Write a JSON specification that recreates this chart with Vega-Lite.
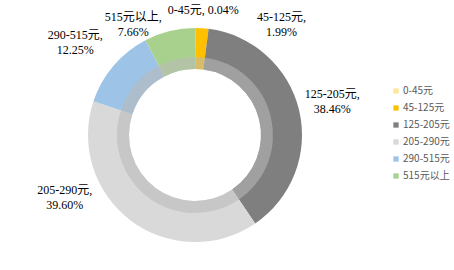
{
  "$schema": "https://vega.github.io/schema/vega-lite/v6.json",
  "width": 454,
  "height": 270,
  "autosize": {"type": "none"},
  "padding": 0,
  "background": "white",
  "config": {"view": {"stroke": null}},
  "data": {
    "values": [
      {"idx": 1, "cat": "0-45元", "pct": 0.04, "label": "0-45元, 0.04%"},
      {"idx": 2, "cat": "45-125元", "pct": 1.99, "label": "45-125元,\n1.99%"},
      {"idx": 3, "cat": "125-205元", "pct": 38.46, "label": "125-205元,\n38.46%"},
      {"idx": 4, "cat": "205-290元", "pct": 39.60, "label": "205-290元,\n39.60%"},
      {"idx": 5, "cat": "290-515元", "pct": 12.25, "label": "290-515元,\n12.25%"},
      {"idx": 6, "cat": "515元以上", "pct": 7.66, "label": "515元以上,\n7.66%"}
    ]
  },
  "encoding": {
    "theta": {"field": "pct", "type": "quantitative", "stack": true},
    "order": {"field": "idx", "type": "quantitative"}
  },
  "layer": [
    {
      "mark": {"type": "arc", "x": 195, "y": 135, "outerRadius": 107, "innerRadius": 66},
      "encoding": {
        "color": {
          "field": "cat", "type": "nominal",
          "scale": {
            "domain": ["0-45元", "45-125元", "125-205元", "205-290元", "290-515元", "515元以上"],
            "range": ["#ffe699", "#ffc000", "#7f7f7f", "#d9d9d9", "#9dc3e6", "#a9d18e"]
          },
          "legend": {
            "orient": "none", "legendX": 391, "legendY": 86, "title": null,
            "symbolType": "square", "symbolSize": 28, "symbolStrokeWidth": 0,
            "labelFont": "Noto Sans CJK SC", "labelFontSize": 10, "labelColor": "#595959",
            "rowPadding": 7, "labelOffset": 2
          }
        }
      }
    },
    {
      "mark": {"type": "arc", "x": 195, "y": 135, "outerRadius": 78, "innerRadius": 66, "fill": "#b8b8b8", "opacity": 0.57},
      "encoding": {"detail": {"field": "cat"}}
    },
    {
      "mark": {"type": "text", "x": 195, "y": 135, "radius": 125, "dx": 8, "dy": 0, "align": "center", "baseline": "middle", "lineBreak": "\n", "lineHeight": 15, "font": "Liberation Serif, Noto Sans CJK SC", "fontSize": 12, "fill": "#000000"},
      "encoding": {"detail": {"field": "cat"}, "text": {"condition": {"test": "datum.cat === '0-45元'", "field": "label"}, "value": ""}}
    },
    {
      "mark": {"type": "text", "x": 195, "y": 135, "radius": 130, "dx": 78, "dy": 12, "align": "center", "baseline": "middle", "lineBreak": "\n", "lineHeight": 15, "font": "Liberation Serif, Noto Sans CJK SC", "fontSize": 12, "fill": "#000000"},
      "encoding": {"detail": {"field": "cat"}, "text": {"condition": {"test": "datum.cat === '45-125元'", "field": "label"}, "value": ""}}
    },
    {
      "mark": {"type": "text", "x": 195, "y": 135, "radius": 140, "dx": 1, "dy": -8, "align": "center", "baseline": "middle", "lineBreak": "\n", "lineHeight": 15, "font": "Liberation Serif, Noto Sans CJK SC", "fontSize": 12, "fill": "#000000"},
      "encoding": {"detail": {"field": "cat"}, "text": {"condition": {"test": "datum.cat === '125-205元'", "field": "label"}, "value": ""}}
    },
    {
      "mark": {"type": "text", "x": 195, "y": 135, "radius": 140, "dx": -46, "dy": -57, "align": "center", "baseline": "middle", "lineBreak": "\n", "lineHeight": 15, "font": "Liberation Serif, Noto Sans CJK SC", "fontSize": 12, "fill": "#000000"},
      "encoding": {"detail": {"field": "cat"}, "text": {"condition": {"test": "datum.cat === '205-290元'", "field": "label"}, "value": ""}}
    },
    {
      "mark": {"type": "text", "x": 195, "y": 135, "radius": 156, "dx": -1, "dy": 1, "align": "center", "baseline": "middle", "lineBreak": "\n", "lineHeight": 15, "font": "Liberation Serif, Noto Sans CJK SC", "fontSize": 12, "fill": "#000000"},
      "encoding": {"detail": {"field": "cat"}, "text": {"condition": {"test": "datum.cat === '290-515元'", "field": "label"}, "value": ""}}
    },
    {
      "mark": {"type": "text", "x": 195, "y": 135, "radius": 125, "dx": -32, "dy": 3, "align": "center", "baseline": "middle", "lineBreak": "\n", "lineHeight": 15, "font": "Liberation Serif, Noto Sans CJK SC", "fontSize": 12, "fill": "#000000"},
      "encoding": {"detail": {"field": "cat"}, "text": {"condition": {"test": "datum.cat === '515元以上'", "field": "label"}, "value": ""}}
    }
  ]
}
